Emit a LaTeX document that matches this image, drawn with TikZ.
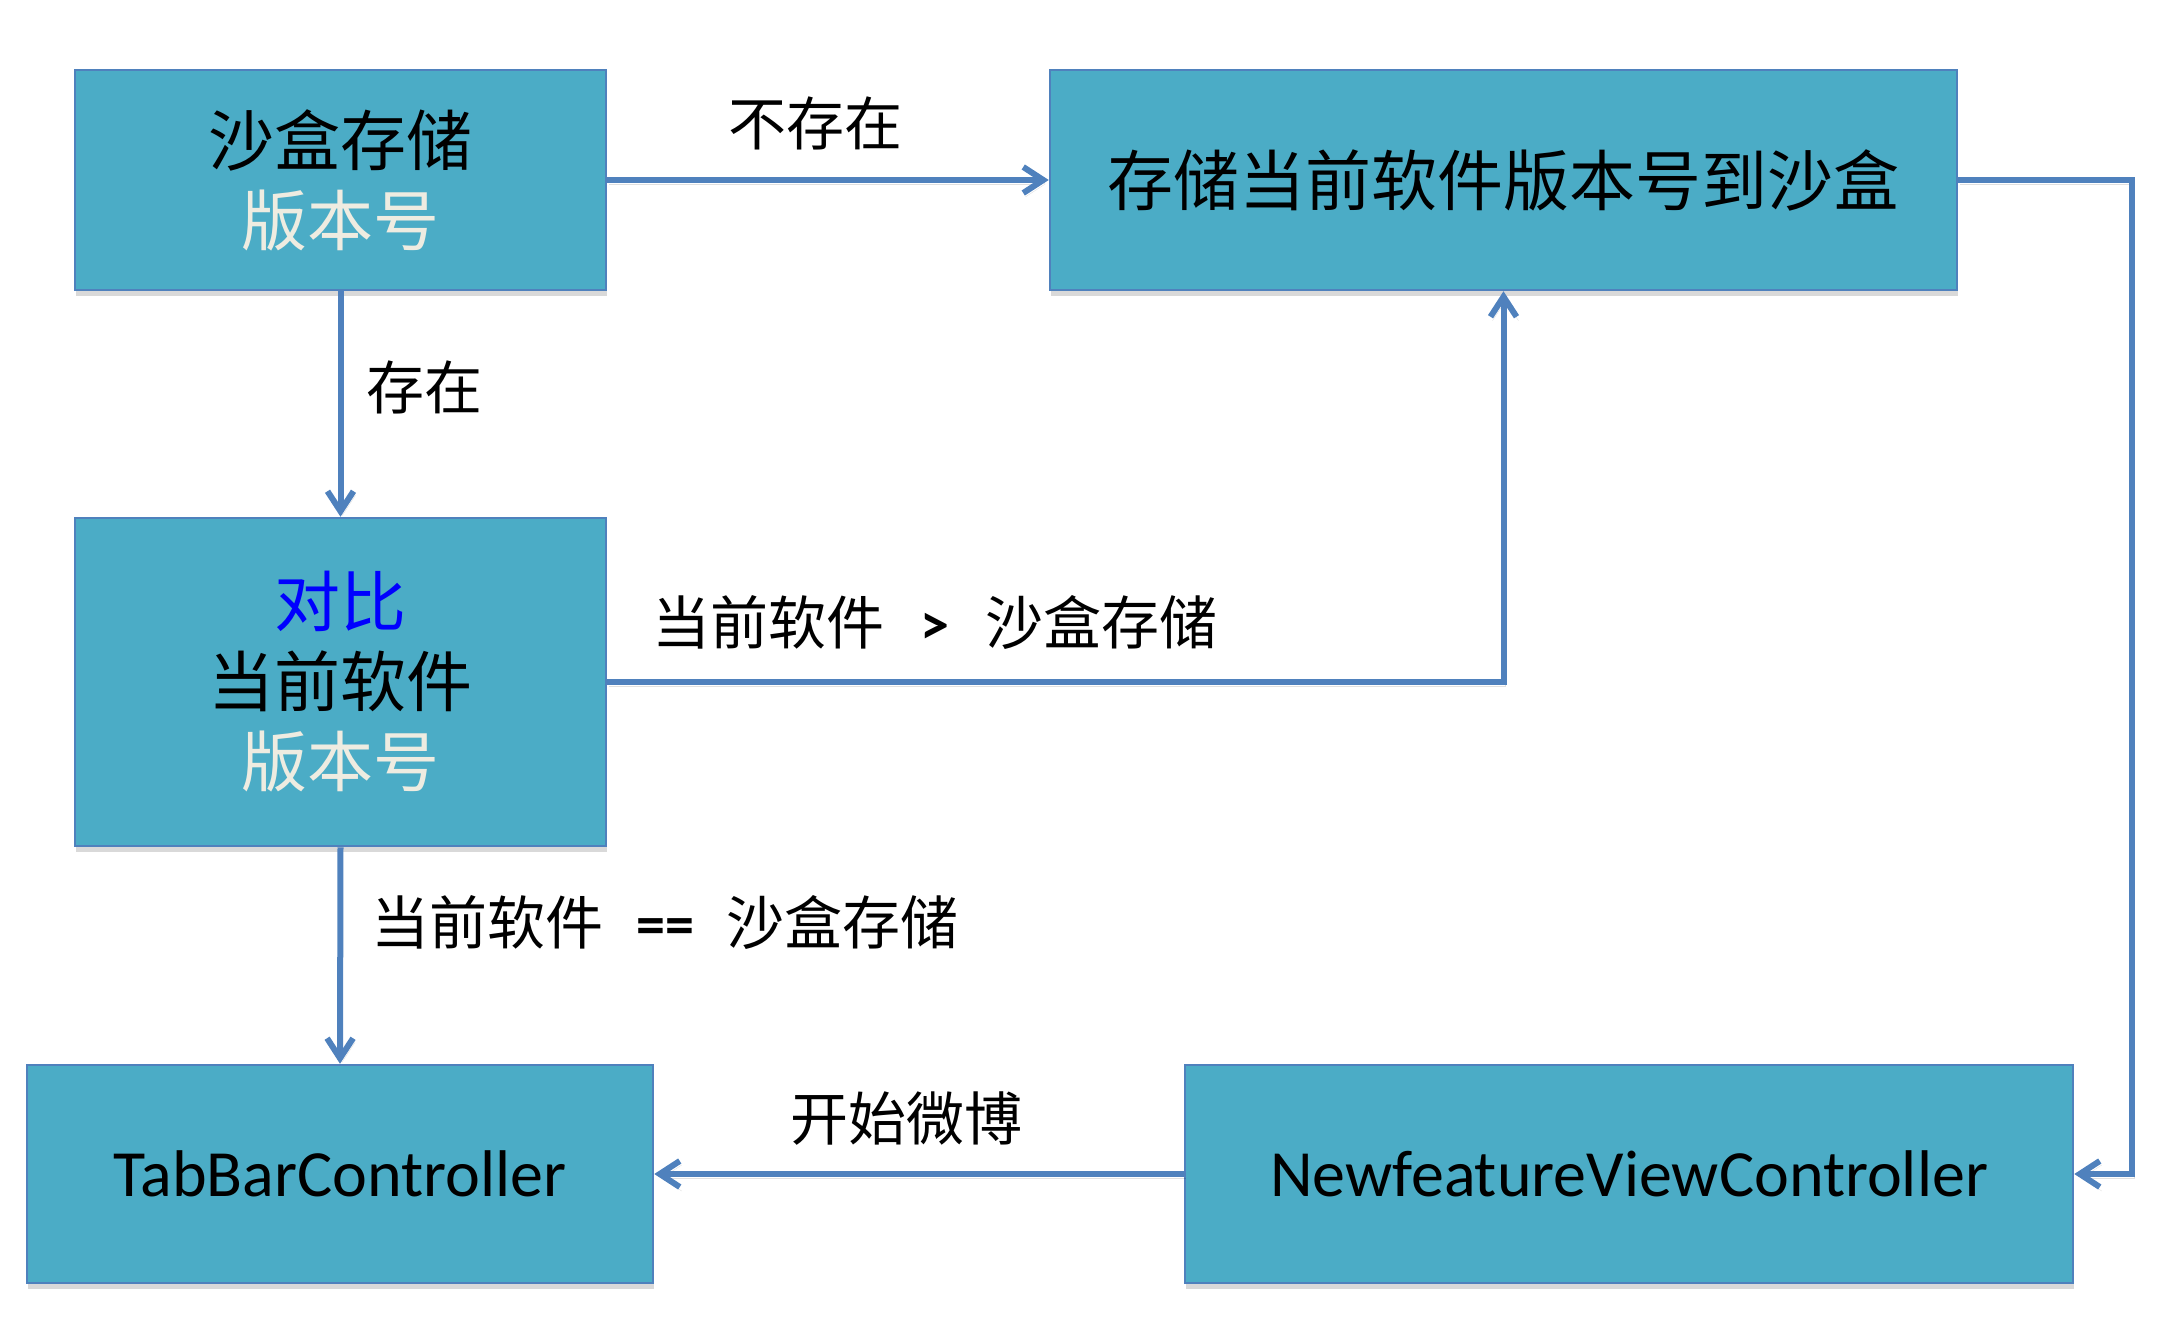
\documentclass[tikz,border=0pt]{standalone}
\usepackage{fontspec}
\setmainfont{Carlito}
\newfontfamily\cjk{Noto Sans CJK SC}
\usetikzlibrary{arrows.meta,shadows}
\definecolor{boxfill}{HTML}{4BACC6}
\definecolor{boxline}{HTML}{4F81BD}
\definecolor{arrowc}{HTML}{4F81BD}
\definecolor{cream}{HTML}{EEECE1}
\definecolor{pureblue}{HTML}{0000FF}
\tikzset{
  flowbox/.style={draw=boxline, line width=2.5pt, fill=boxfill, inner sep=0pt,
    align=center, font=\fontsize{66}{80}\selectfont,
    drop shadow={shadow xshift=1pt, shadow yshift=-6pt, opacity=0.25, fill=black!60}},
  conn/.style={draw=arrowc, line width=6pt,
    -{Straight Barb[length=20pt,width=26pt,line width=6pt]},
    preaction={draw=black, opacity=0.12, transform canvas={shift={(2pt,-4pt)}}}},
  lbl/.style={inner sep=0pt, font=\fontsize{58}{70}\selectfont}
}
\begin{document}
\begin{tikzpicture}[x=1pt,y=-1pt]
\useasboundingbox (0,0) rectangle (2182,1340);
\node[flowbox, minimum width=531pt, minimum height=220pt] (b1) at (340.5,180)
  {{\cjk 沙盒存储}\\{\cjk\color{cream}版本号}};
\node[flowbox, minimum width=907pt, minimum height=220pt] (b2) at (1503.5,180)
  {{\cjk 存储当前软件版本号到沙盒}};
\node[flowbox, minimum width=531pt, minimum height=328pt] (b3) at (340.5,682)
  {{\cjk\color{pureblue}对比}\\{\cjk 当前软件}\\{\cjk\color{cream}版本号}};
\node[flowbox, minimum width=626pt, minimum height=218pt] (b4) at (340,1174)
  {TabBarController};
\node[flowbox, minimum width=888pt, minimum height=218pt] (b5) at (1629,1174)
  {NewfeatureViewController};
\coordinate (r) at (2132,180);

\draw[conn] (b1.east) -- (b2.west);
\draw[conn] (b1.south) -- (b3.north);
\draw[conn] (b3.east) -| (b2.south);
\draw[conn] (b3.south) -- (b4.north);
\draw[conn] (b5.west) -- (b4.east);
\draw[conn] (b2.east) -- (r) |- (b5.east);

\node[lbl] (l1) at (815,123) {\cjk 不存在};
\node[lbl] (l2) at (424,387) {\cjk 存在};
\node[lbl, anchor=west] (l3) at (652,622) {{\cjk 当前软件}\hspace{36pt}{\bfseries >}\hspace{36pt}{\cjk 沙盒存储}};
\node[lbl, anchor=west] (l4) at (371,922) {{\cjk 当前软件}\hspace{33pt}{\bfseries ==}\hspace{33pt}{\cjk 沙盒存储}};
\node[lbl] (l5) at (906,1119) {\cjk 开始微博};
\end{tikzpicture}
\end{document}
